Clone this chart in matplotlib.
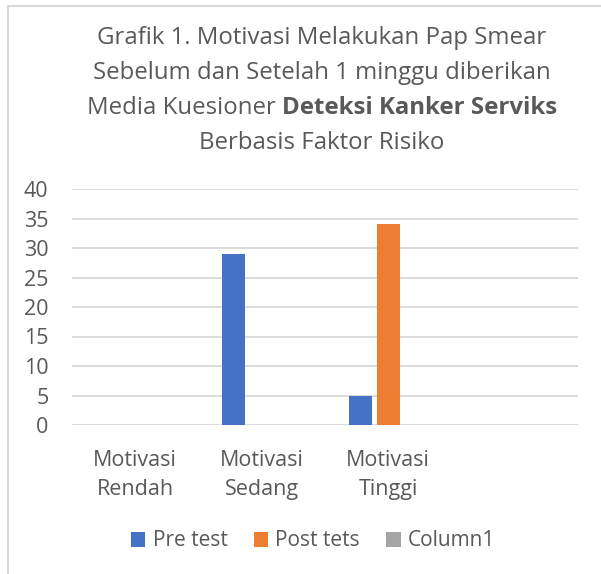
import matplotlib
matplotlib.use("Agg")
import matplotlib.pyplot as plt
from matplotlib.lines import Line2D
from matplotlib.patches import Patch
import numpy as np

categories = ["Motivasi\nRendah", "Motivasi\nSedang", "Motivasi\nTinggi", ""]
pre_test = [0, 29, 5, 0]
post_tets = [0, 0, 34, 0]
column1 = [0, 0, 0, 0]
series_names = ["Pre test", "Post tets", "Column1"]
colors = ["#4472C4", "#ED7D31", "#A5A5A5"]
yticks = [0, 5, 10, 15, 20, 25, 30, 35, 40]
title_lines = ["Grafik 1. Motivasi Melakukan Pap Smear",
               "Sebelum dan Setelah 1 minggu diberikan"]

plt.rcParams['font.family'] = ['Open Sans', 'DejaVu Sans']
text_col = "#595959"
TFS = 17.3
LFS = 15.5

W, H = 601, 574
fig = plt.figure(figsize=(W / 100, H / 100), dpi=100)
fig.patch.set_facecolor("white")

# plot area: x 72..578, y 189..425 (pixels from top)
ax = fig.add_axes([72 / W, 1 - 425 / H, (578 - 72) / W, (425 - 189) / H])

x = np.arange(len(categories))
bw = 0.18
off = 0.222
for i, (vals, name, c) in enumerate(zip([pre_test, post_tets, column1], series_names, colors)):
    ax.bar(x + (i - 1) * off, vals, width=bw, color=c, label=name, zorder=3)

ax.set_xlim(-0.5, len(categories) - 0.5)
ax.set_ylim(0, 40)
ax.set_yticks(yticks)
ax.yaxis.grid(True, color="#D9D9D9", linewidth=1.3, zorder=0)
ax.set_axisbelow(True)
for s in ax.spines.values():
    s.set_visible(False)
ax.tick_params(axis="both", length=0, colors=text_col, labelsize=LFS)
ax.tick_params(axis="y", pad=17)
ax.set_xticks(x)
ax.set_xticklabels(categories, linespacing=1.5)
ax.tick_params(axis="x", pad=18)
for lab in ax.get_yticklabels():
    lab.set_color(text_col)

# Title
fig.text(322 / W, 1 - 38 / H, title_lines[0], ha="center", va="center", fontsize=TFS, color=text_col)
fig.text(322 / W, 1 - 73 / H, title_lines[1], ha="center", va="center", fontsize=TFS, color=text_col)
# third line mixed weight
t1 = fig.text(0, 1 - 108 / H, "Media Kuesioner ", ha="left", va="center", fontsize=TFS, color=text_col)
t2 = fig.text(0, 1 - 108 / H, "Deteksi Kanker Serviks", ha="left", va="center", fontsize=TFS,
              color=text_col, fontweight="bold")
fig.canvas.draw()
r = fig.canvas.get_renderer()
w1 = t1.get_window_extent(r).width
w2 = t2.get_window_extent(r).width
start = 322 - (w1 + w2) / 2
t1.set_x(start / W)
t2.set_x((start + w1) / W)
fig.text(322 / W, 1 - 143 / H, "Berbasis Faktor Risiko", ha="center", va="center", fontsize=TFS, color=text_col)

# Legend
handles = [Patch(facecolor=c, edgecolor="none") for c in colors]
leg = fig.legend(handles, series_names, loc="center", bbox_to_anchor=(313 / W, 1 - 541 / H),
                 ncol=3, frameon=False, fontsize=15, handlelength=0.7, handleheight=0.7,
                 handletextpad=0.35, columnspacing=1.25, borderaxespad=0, borderpad=0)
for t in leg.get_texts():
    t.set_color(text_col)

# chart border (left and top)
fig.add_artist(Line2D([7.5 / W, 7.5 / W], [0, 1 - 5.5 / H], color="#D9D9D9", linewidth=1.5,
                      transform=fig.transFigure))
fig.add_artist(Line2D([7.5 / W, 1], [1 - 5.5 / H, 1 - 5.5 / H], color="#D9D9D9", linewidth=1.5,
                      transform=fig.transFigure))

fig.savefig("out.png", dpi=100, facecolor="white")
